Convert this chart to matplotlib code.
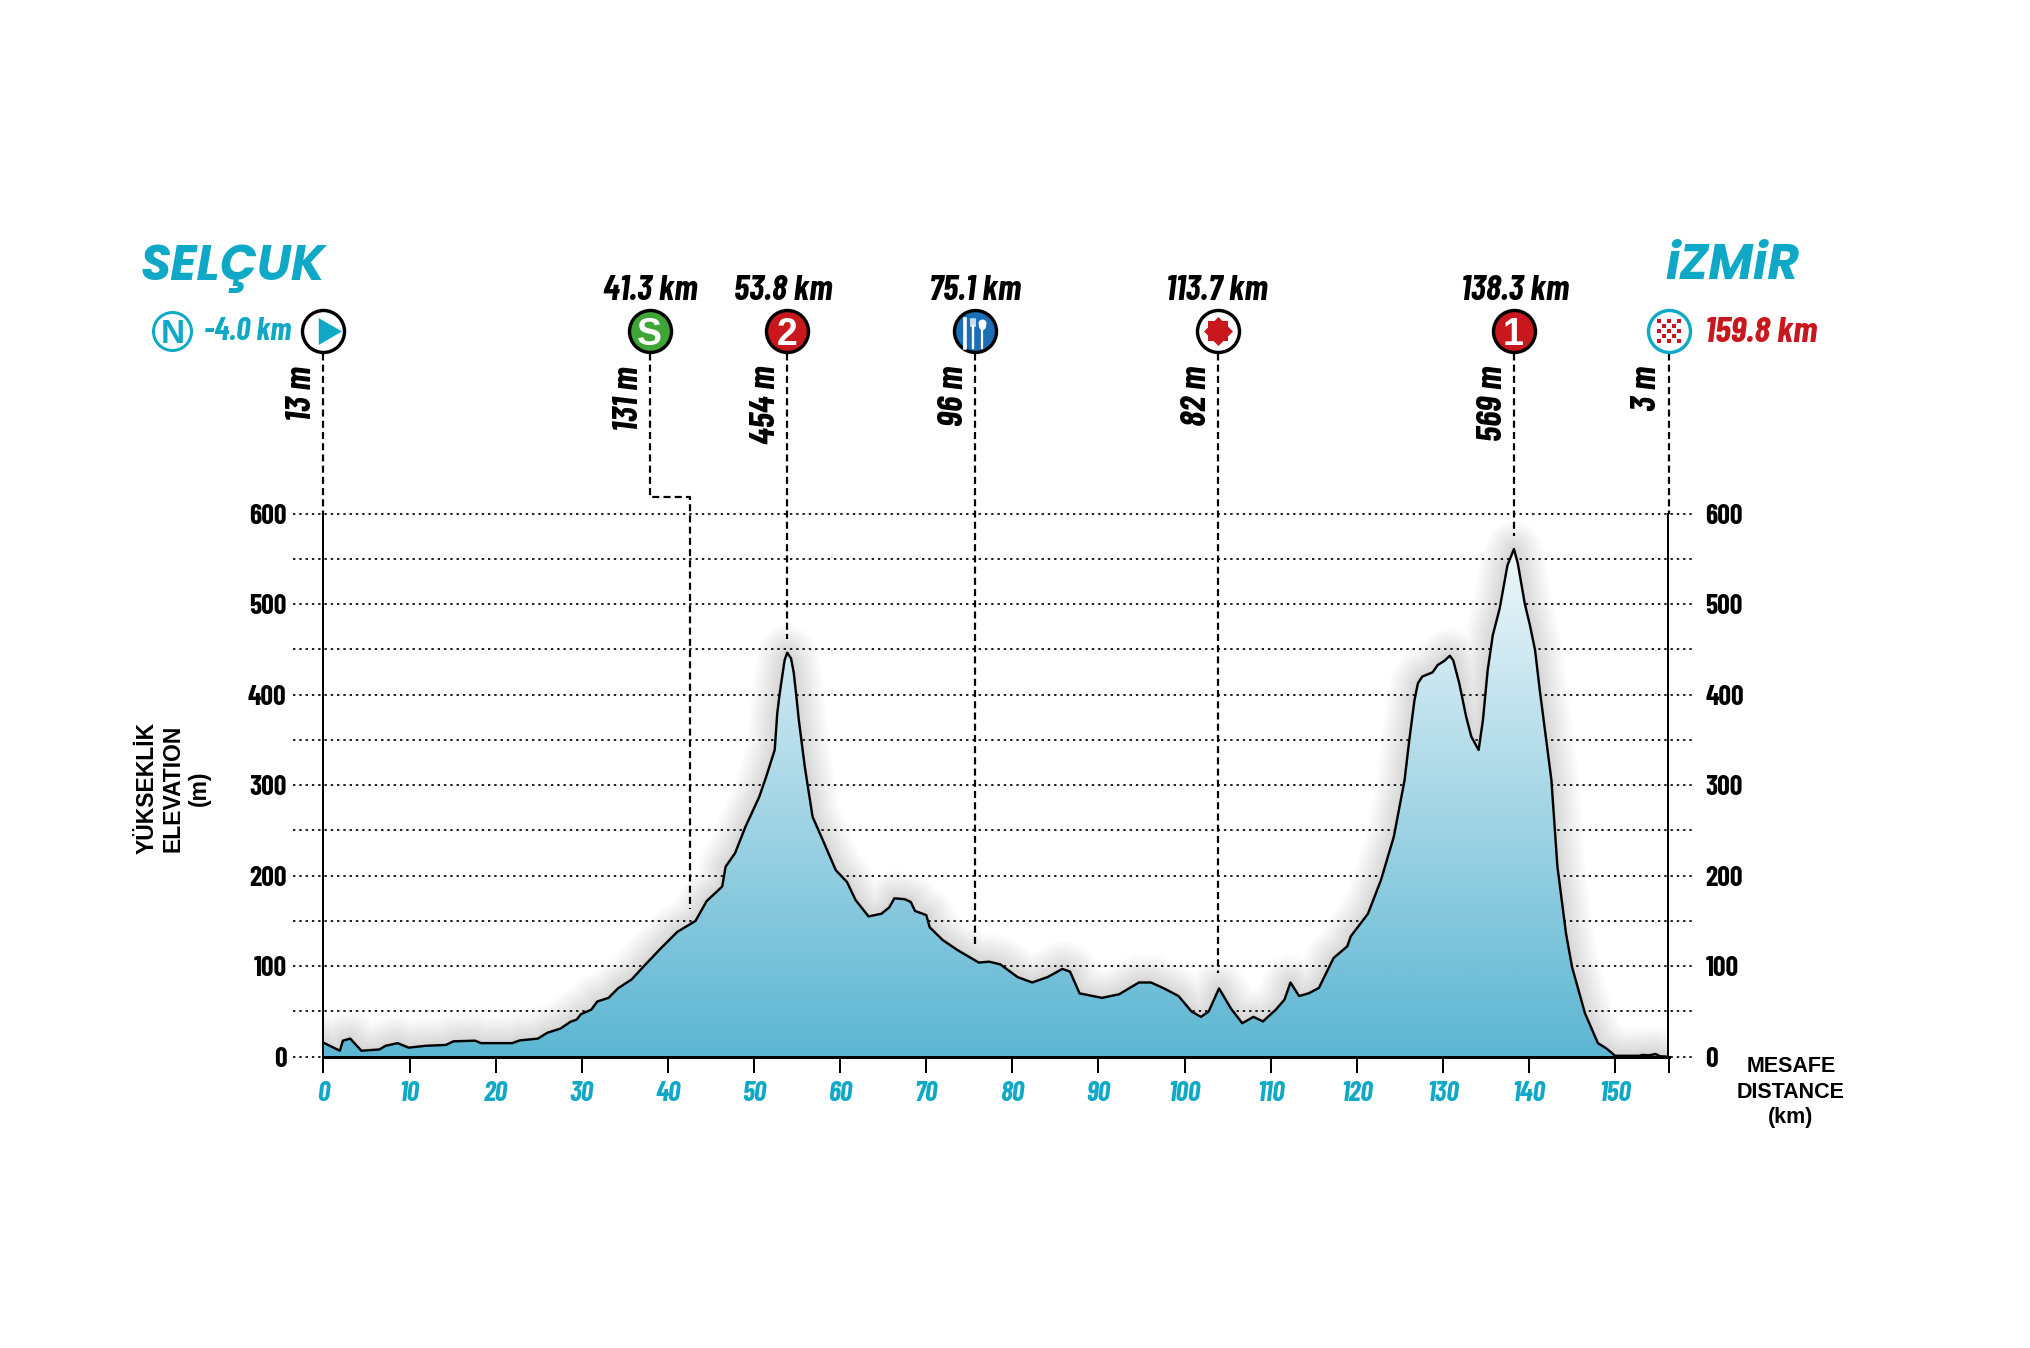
import numpy as np
import matplotlib
matplotlib.use('Agg')
import matplotlib.pyplot as plt
from matplotlib.patches import Polygon
from matplotlib.colors import LinearSegmentedColormap

W, H = 2031, 1348

# profile
km = [0, 1.9, 2.25, 3.1, 4.4, 6.5, 7.2, 8.6, 9.9, 11.8, 14.2, 15.1, 17.6, 18.3, 21.9, 22.8, 24.9, 26, 27.5, 28.7,
      29.4, 29.9, 31.1, 31.8, 33.1, 34.2, 35.8, 37.3, 39, 41.1, 43.2, 44.5, 46.3, 46.7, 47.8, 49, 50.6, 51.4, 52.4,
      52.7, 52.96, 53.15, 53.35, 53.55, 53.85, 54.3, 54.6, 54.9, 55.2, 55.6, 55.9, 56.8, 58, 59.5, 60.8, 61.8, 63.3,
      64.8, 65.7, 66.3, 67.5, 68.2, 68.7, 70, 70.4, 71.9, 73.6, 76.1, 77.3, 78.6, 80.6, 82.3, 84.1, 85.8, 86.7, 87.8,
      90.4, 92.4, 94.7, 96.1, 97.6, 99.3, 100.8, 101.9, 102.8, 104, 105.4, 106.7, 108, 109.1, 110.6, 111.6, 112.3,
      113.3, 114.4, 115.6, 117.3, 118.9, 119.3, 121.3, 122.8, 124.3, 125.55, 126.1, 126.7, 127.1, 127.6, 128.8,
      129.4, 130.2, 130.8, 131.2, 131.9, 132.7, 133.3, 134.15, 134.65, 135.2, 135.8, 136.6, 137.5, 138.25, 138.7,
      139.5, 140.1, 140.7, 141.25, 141.8, 142.6, 143.3, 144.3, 145, 146.5, 148, 149, 150, 152.8, 153.2, 153.9, 154.7,
      155.2, 156.2]
elev = [15.5, 6.6, 17.7, 20, 6.6, 8, 12, 15, 10, 12, 13, 17, 17.7, 15, 15, 18, 20, 26.5, 31, 38.7,
        41, 47, 52, 61, 65, 75.5, 85.5, 101, 118, 138, 150, 172, 188, 210, 225, 254, 287, 309, 339,
        379.6, 399.7, 412.5, 425, 438, 446.4, 440, 425, 399.7, 372, 342.5, 320, 265, 239, 206, 193, 173, 155,
        158, 165, 175, 174, 171, 161, 156.5, 143, 129, 118, 104, 105, 102, 88, 82, 88, 97, 94, 70,
        65, 69, 82, 82, 75.5, 67, 50, 44, 50, 75.5, 53, 37, 44, 39, 52, 63, 82,
        67, 70, 76, 109, 122, 133, 158, 195, 243, 305.7, 350, 394, 412.6, 420, 424.7,
        432.8, 437.6, 443, 438, 412.6, 375.7, 353.6, 338.9, 372, 427, 466, 495.5, 543, 561, 545,
        501, 477, 449.4, 405, 364.6, 305.7, 210, 136, 99, 48, 15, 9, 1, 1, 2, 1.5, 3,
        0.5, 0]

xticks = [0, 10, 20, 30, 40, 50, 60, 70, 80, 90, 100, 110, 120, 130, 140, 150]
yticks = [0, 100, 200, 300, 400, 500, 600]
yminor = [50, 150, 250, 350, 450, 550]
END_KM = 156.2

# marker km, elevation label, km label, where the dashed line ends
mark_km = [0, 37.9, 53.8, 75.7, 103.9, 138.2, 156.2]
mark_elev = ['13 m', '131 m', '454 m', '96 m', '82 m', '569 m', '3 m']
mark_dist = [None, '41.3 km', '53.8 km', '75.1 km', '113.7 km', '138.3 km', None]
dash_end = [600, 162.8, 462, 120.8, 92, 575, 600]

TEAL = '#0fa9c7'
RED = '#c9171e'
GREEN = '#3ea536'
BLUE = '#1b6fb8'
NARROW = ['Barlow Condensed', 'Liberation Sans Narrow', 'Roboto', 'DejaVu Sans']
WIDE = ['Poppins', 'Open Sans', 'Roboto', 'DejaVu Sans']
PX = 72 / 100  # pixels to points
X0, X1 = 323.5, 1668.5

fig = plt.figure(figsize=(W / 100, H / 100), dpi=100, facecolor='white')
ax = fig.add_axes([X0 / W, (H - 1056.7) / H, (X1 - X0) / W, 543 / H])
ax.set_xlim(0, END_KM)
ax.set_ylim(0, 600)
kx = (X1 - X0) / END_KM  # px per km
my = 543 / 600  # px per m
MARK_Y = (1056.7 - 331) / my


def page_text(px, py, s, **kw):
    kw.setdefault('ha', 'center')
    kw.setdefault('va', 'center')
    fig.text(px / W, 1 - py / H, s, **kw)


# grid
dots = (0, (1.4, 2.3))
for y in yticks + yminor:
    ax.plot([-3.6, 159], [y, y], color='black', lw=1.7 * PX, ls=dots, clip_on=False, zorder=2)

# soft shadow round the profile
for w in np.arange(3, 42, 2):
    ax.plot(km, elev, color='black', lw=w, alpha=0.009, solid_joinstyle='round', zorder=1, clip_on=True)

# gradient fill
cmap = LinearSegmentedColormap.from_list('prof', ['#5cb6d2', '#f2f8fb'])
grad = np.linspace(0, 1, 256).reshape(-1, 1)
im = ax.imshow(grad, origin='lower', extent=[0, END_KM, 0, 575], aspect='auto', cmap=cmap, zorder=3)
poly = Polygon(np.column_stack([[0] + km + [END_KM], [0] + elev + [0]]), closed=True, transform=ax.transData,
               fc='none', ec='none')
ax.add_patch(poly)
im.set_clip_path(poly)
ax.set_xlim(0, END_KM)
ax.set_ylim(0, 600)
ax.plot(km, elev, color='black', lw=2.4 * PX, zorder=4, solid_joinstyle='round')

# axes
ax.spines['top'].set_visible(False)
for s in ['left', 'right', 'bottom']:
    ax.spines[s].set_linewidth(2 * PX)
    ax.spines[s].set_zorder(5)
ax.spines['bottom'].set_linewidth(3 * PX)
ax.set_xticks(xticks + [END_KM])
ax.set_xticklabels([str(x) for x in xticks] + [''], family=NARROW, style='italic', weight='bold',
                   color=TEAL, fontsize=20)
ax.tick_params(axis='x', length=16 * PX, width=2 * PX, pad=6)
ax.set_yticks(yticks)
ax.set_yticklabels([str(y) for y in yticks], family=NARROW, weight='bold', fontsize=20)
ax.tick_params(axis='y', length=0, pad=37 * PX, labelright=True)
for t in ax.get_yticklabels():
    t.set_family(NARROW)
    t.set_fontsize(20)
    t.set_weight('bold')

# dashed leaders
dash = (0, (3.2, 1.9))
for k, e in zip(mark_km, dash_end):
    if k == mark_km[1]:
        xs = [k, k, 42.6, 42.6]
        ys = [MARK_Y, 618, 618, e]
    else:
        xs = [k, k]
        ys = [MARK_Y, e]
    ax.plot(xs, ys, color='black', lw=2.2 * PX, ls=dash, clip_on=False, zorder=6)

# marker discs
fills = ['white', GREEN, RED, BLUE, 'white', RED, 'white']
edges = ['black', 'black', 'black', 'black', 'black', 'black', TEAL]
for k, f, e in zip(mark_km, fills, edges):
    ax.plot(k, MARK_Y, 'o', ms=42 * PX, mfc=f, mec=e, mew=3.4 * PX, clip_on=False, zorder=7)

ax.plot(mark_km[0] + 3 / kx, MARK_Y, marker=(3, 0, -90), ms=31 * PX, color=TEAL, mew=0, clip_on=False, zorder=8)
for ang in [0, 45]:
    ax.plot(mark_km[4], MARK_Y, marker=(4, 0, ang), ms=29 * PX, color=RED, mew=0, clip_on=False, zorder=8)
for i, t in [(1, 'S'), (2, '2'), (5, '1')]:
    ax.text(mark_km[i], MARK_Y, t, color='white', family='Liberation Sans', weight='bold', fontsize=27, ha='center',
            va='center_baseline', zorder=8, clip_on=False)

# knife, fork, spoon
fk = mark_km[3]
for dx, top, bot, lw in [(-10, 12, -17, 3.6), (-2, 5, -17, 2.4), (7, 6, -17, 2.2)]:
    ax.plot([fk + dx / kx] * 2, [MARK_Y + top / my, MARK_Y + bot / my], color='white', lw=lw * PX, clip_on=False, zorder=8)
for dx in [-4, -2, 0]:
    ax.plot([fk + dx / kx] * 2, [MARK_Y + 5 / my, MARK_Y + 12 / my], color='white', lw=1.5 * PX, clip_on=False, zorder=8)
ax.plot(fk + 7 / kx, MARK_Y + 8 / my, 'o', ms=8 * PX, color='white', mew=0, clip_on=False, zorder=8)
ax.plot(fk + 7 / kx, MARK_Y + 5 / my, 'o', ms=7 * PX, color='white', mew=0, clip_on=False, zorder=8)

# finish flag
fin = mark_km[6]
cx, cy = [], []
for i in range(-2, 3):
    for j in range(-2, 3):
        if (i + j) % 2 == 0:
            cx.append(fin + i * 5 / kx)
            cy.append(MARK_Y + j * 5 / my)
ax.plot(cx, cy, 's', ms=5 * PX, color=RED, mew=0, clip_on=False, zorder=8)

# elevation and km labels
for k, t in zip(mark_km, mark_elev):
    px = X0 + k * kx - 21
    page_text(px, 366, t, family=NARROW, style='italic', weight='bold', fontsize=25.5, rotation=90, va='top')
km_px = [650, 783, 975, 1217, 1515]
for px, t in zip(km_px, [d for d in mark_dist if d]):
    page_text(px, 291, t, family=NARROW, style='italic', weight='bold', fontsize=25.5)

# towns
page_text(233, 268, 'SELÇUK', family=WIDE, style='italic', weight='bold', color=TEAL, fontsize=35)
page_text(1733, 267, 'iZMiR', family=WIDE, style='italic', weight='bold', color=TEAL, fontsize=35)
page_text(248, 332, '-4.0 km', family=NARROW, style='italic', weight='bold', color=TEAL, fontsize=23)
page_text(1761, 333, '159.8 km', family=NARROW, style='italic', weight='bold', color=RED, fontsize=26.5)

# neutral start
ax.plot((172.5 - X0) / kx, MARK_Y, 'o', ms=38 * PX, mfc='white', mec=TEAL, mew=3 * PX, clip_on=False, zorder=7)
ax.text((172.5 - X0) / kx, MARK_Y, 'N', color=TEAL, family='Liberation Sans', weight='bold', fontsize=24, ha='center',
        va='center_baseline', zorder=8, clip_on=False)

# axis titles
for px, t in [(147, 'YÜKSEKLİK'), (173, 'ELEVATION'), (199, '(m)')]:
    page_text(px, 788, t, family='Liberation Sans', weight='bold', fontsize=16.5, rotation=90)
for py, t in [(1067, 'MESAFE'), (1092, 'DISTANCE'), (1118, '(km)')]:
    page_text(1791, py, t, family='Liberation Sans', weight='bold', fontsize=15.5)

fig.savefig('out.png', dpi=100)
